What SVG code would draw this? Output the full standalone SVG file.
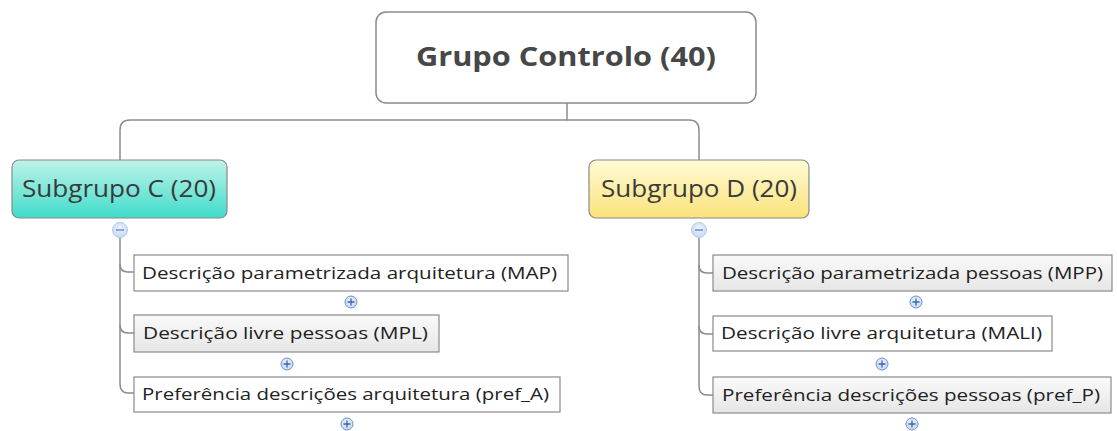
<svg xmlns="http://www.w3.org/2000/svg" width="1117" height="431" viewBox="0 0 1117 431">
<defs>
<linearGradient id="gC" x1="0" y1="0" x2="0" y2="1"><stop offset="0" stop-color="#bff3ea"/><stop offset="1" stop-color="#3fdcc9"/></linearGradient>
<linearGradient id="gD" x1="0" y1="0" x2="0" y2="1"><stop offset="0" stop-color="#fffbd6"/><stop offset="1" stop-color="#fbe27a"/></linearGradient>
<linearGradient id="gG" x1="0" y1="0" x2="0" y2="1"><stop offset="0" stop-color="#fafafa"/><stop offset="1" stop-color="#e6e6e6"/></linearGradient>
<radialGradient id="gB" cx="0.5" cy="0.4" r="0.6"><stop offset="0" stop-color="#eef4fd"/><stop offset="1" stop-color="#c3d7f5"/></radialGradient>
</defs>
<style>
.root{fill:#fff;stroke:#8a8a8a;stroke-width:1.5}
.sub{stroke:#8a8a8a;stroke-width:1.2}
.leaf{stroke:#8a8a8a;stroke-width:1.2}
.t{font-family:"Open Sans","Noto Sans","Liberation Sans",sans-serif;fill:#333}
.tr{font-size:27px;font-weight:bold;fill:#474747}
.ts{font-size:23px;fill:#3a3a3a}
.tl{font-size:17px;fill:#222}
.con{fill:none;stroke:#8c8c8c;stroke-width:1.5}
.pc{fill:url(#gB);stroke:#6f93c9;stroke-width:1}
.mc{fill:url(#gB);stroke:#b3cbf0;stroke-width:1}
.ps{stroke:#3b63a8;stroke-width:1.3}
.ms{stroke:#6e8cc7;stroke-width:1.5}
</style>
<g id="connectors">
<path class="con" d="M567,103 V120 H130 Q120,120 120,130 V160"/>
<path class="con" d="M567,120 H689 Q699,120 699,130 V160"/>
<path class="con" d="M120,238 V384 Q120,393 128,393 H134"/>
<path class="con" d="M120,264 Q120,272 128,272 H134"/>
<path class="con" d="M120,325 Q120,333 128,333 H134"/>
<path class="con" d="M699,238 V386 Q699,395 707,395 H713"/>
<path class="con" d="M699,265 Q699,273 707,273 H713"/>
<path class="con" d="M699,326 Q699,334 707,334 H713"/>
</g>
<g id="root">
<rect class="root" x="376" y="12" width="380" height="91" rx="10"/>
<text class="t tr" x="566" y="66" text-anchor="middle" textLength="300" lengthAdjust="spacingAndGlyphs">Grupo Controlo (40)</text>
</g>
<g id="subC">
<rect class="sub" x="12" y="160" width="215" height="58" rx="7" fill="url(#gC)"/>
<text class="t ts" x="22" y="197" textLength="194" lengthAdjust="spacingAndGlyphs">Subgrupo C (20)</text>
<circle class="mc" cx="120" cy="230" r="7.5"/>
<line class="ms" x1="116" y1="230" x2="124" y2="230"/>
</g>
<g id="subD">
<rect class="sub" x="589" y="160" width="220" height="58" rx="7" fill="url(#gD)"/>
<text class="t ts" x="601" y="197" textLength="196" lengthAdjust="spacingAndGlyphs">Subgrupo D (20)</text>
<circle class="mc" cx="699" cy="230" r="7.5"/>
<line class="ms" x1="695" y1="230" x2="703" y2="230"/>
</g>
<g id="c1">
<rect class="leaf" x="134" y="255" width="434" height="36" fill="#fff"/>
<text class="t tl" x="142" y="279" textLength="415" lengthAdjust="spacingAndGlyphs">Descrição parametrizada arquitetura (MAP)</text>
<circle class="pc" cx="351" cy="302" r="6"/>
<path class="ps" d="M347.5,302 H354.5 M351,298.5 V305.5"/>
</g>
<g id="c2">
<rect class="leaf" x="134" y="315" width="305" height="37" fill="url(#gG)"/>
<text class="t tl" x="143" y="339" textLength="285" lengthAdjust="spacingAndGlyphs">Descrição livre pessoas (MPL)</text>
<circle class="pc" cx="287" cy="364" r="6"/>
<path class="ps" d="M283.5,364 H290.5 M287,360.5 V367.5"/>
</g>
<g id="c3">
<rect class="leaf" x="134" y="377" width="426" height="35" fill="#fff"/>
<text class="t tl" x="142" y="400" textLength="407" lengthAdjust="spacingAndGlyphs">Preferência descrições arquitetura (pref_A)</text>
<circle class="pc" cx="347" cy="424" r="6"/>
<path class="ps" d="M343.5,424 H350.5 M347,420.5 V427.5"/>
</g>
<g id="d1">
<rect class="leaf" x="713" y="255" width="399" height="36" fill="url(#gG)"/>
<text class="t tl" x="722" y="279" textLength="381" lengthAdjust="spacingAndGlyphs">Descrição parametrizada pessoas (MPP)</text>
<circle class="pc" cx="916" cy="302" r="6"/>
<path class="ps" d="M912.5,302 H919.5 M916,298.5 V305.5"/>
</g>
<g id="d2">
<rect class="leaf" x="713" y="316" width="339" height="35" fill="#fff"/>
<text class="t tl" x="721" y="339" textLength="321" lengthAdjust="spacingAndGlyphs">Descrição livre arquitetura (MALI)</text>
<circle class="pc" cx="882" cy="364" r="6"/>
<path class="ps" d="M878.5,364 H885.5 M882,360.5 V367.5"/>
</g>
<g id="d3">
<rect class="leaf" x="713" y="377" width="398" height="36" fill="url(#gG)"/>
<text class="t tl" x="722" y="401" textLength="378" lengthAdjust="spacingAndGlyphs">Preferência descrições pessoas (pref_P)</text>
<circle class="pc" cx="912" cy="424" r="6"/>
<path class="ps" d="M908.5,424 H915.5 M912,420.5 V427.5"/>
</g>
</svg>
